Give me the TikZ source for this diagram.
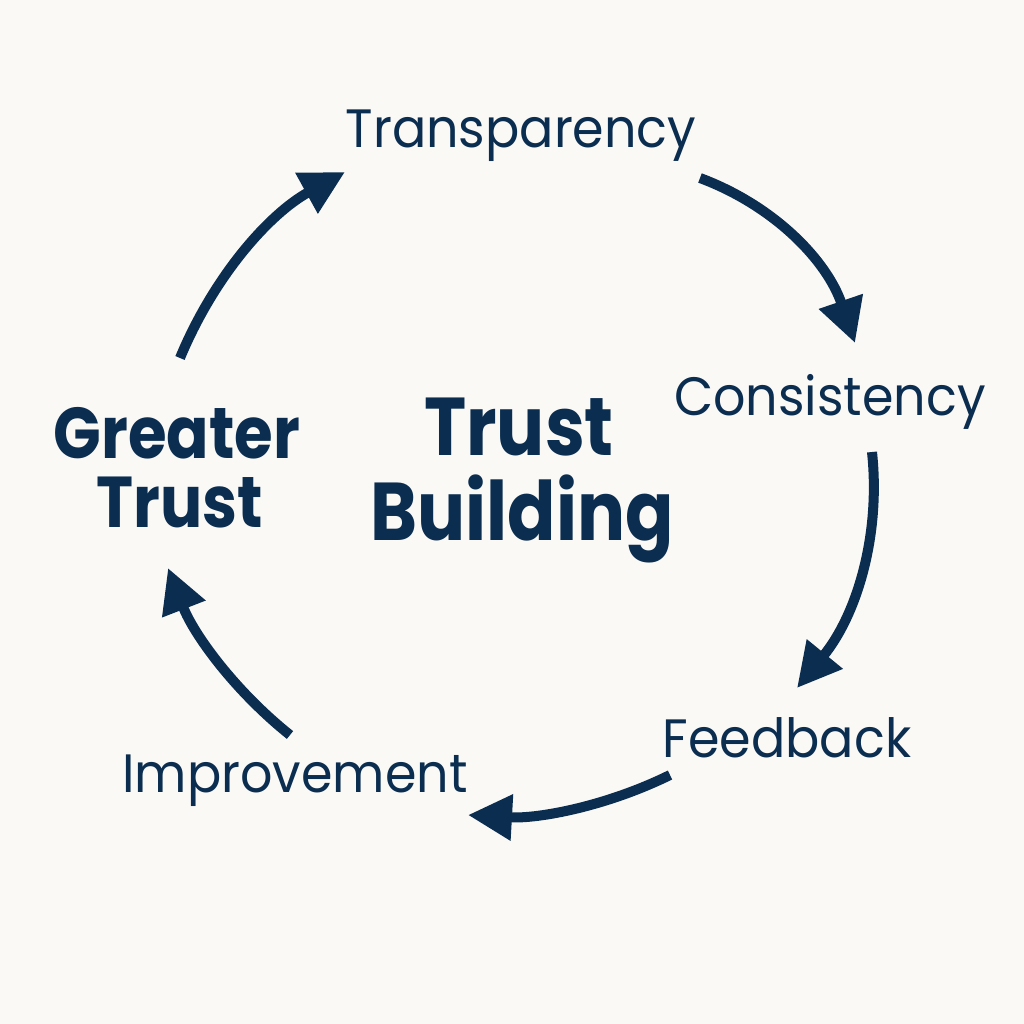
\documentclass[tikz,border=0pt]{standalone}
\usepackage{fontspec}
\setmainfont{Poppins}
\newfontfamily\regf[FakeStretch=0.94]{Poppins}
\newfontfamily\boldf[FakeStretch=0.87]{Poppins}
\usetikzlibrary{arrows.meta}
\definecolor{navy}{HTML}{0B2D4F}
\definecolor{bg}{HTML}{FAF9F6}
\begin{document}
\begin{tikzpicture}[x=0.5pt,y=-0.5pt,
  lbl/.style={text=navy,font=\regf\fontsize{27}{30}\selectfont,anchor=base,inner sep=0pt},
  big/.style={text=navy,font=\boldf\bfseries\fontsize{41}{44}\selectfont,anchor=base,inner sep=0pt},
  mid/.style={text=navy,font=\boldf\bfseries\fontsize{36}{38}\selectfont,anchor=base,inner sep=0pt},
  flow/.style={draw=navy,line width=5pt,-{Triangle[length=22pt,width=22pt]}}]
\fill[bg] (0,0) rectangle (1024,1024);
\useasboundingbox (0,0) rectangle (1024,1024);
\node[lbl] (tr) at (521,147) {Transparency};
\node[lbl] (co) at (830,415) {Consistency};
\node[lbl] (fe) at (787,757) {Feedback};
\node[lbl] (im) at (295,792) {Improvement};
\node[mid] (gt1) at (177,458) {Greater};
\node[mid] (gt2) at (180,527) {Trust};
\node[big] (tb1) at (519,455) {Trust};
\node[big] (tb2) at (522,540) {Building};
\coordinate (a1s) at (180,358); \coordinate (a1e) at (345,172);
\coordinate (a2s) at (700,178); \coordinate (a2e) at (855,343);
\coordinate (a3s) at (872,452); \coordinate (a3e) at (797,688);
\coordinate (a4s) at (670,775); \coordinate (a4e) at (468,815);
\coordinate (a5s) at (290,735); \coordinate (a5e) at (168,568);
\draw[flow] (a1s) .. controls (214,276) and (269,214) .. (a1e);
\draw[flow] (a2s) .. controls (775,206) and (827,261) .. (a2e);
\draw[flow] (a3s) .. controls (881,537) and (856,616) .. (a3e);
\draw[flow] (a4s) .. controls (607,806) and (539,819) .. (a4e);
\draw[flow] (a5s) .. controls (235,691) and (194,635) .. (a5e);
\end{tikzpicture}
\end{document}
